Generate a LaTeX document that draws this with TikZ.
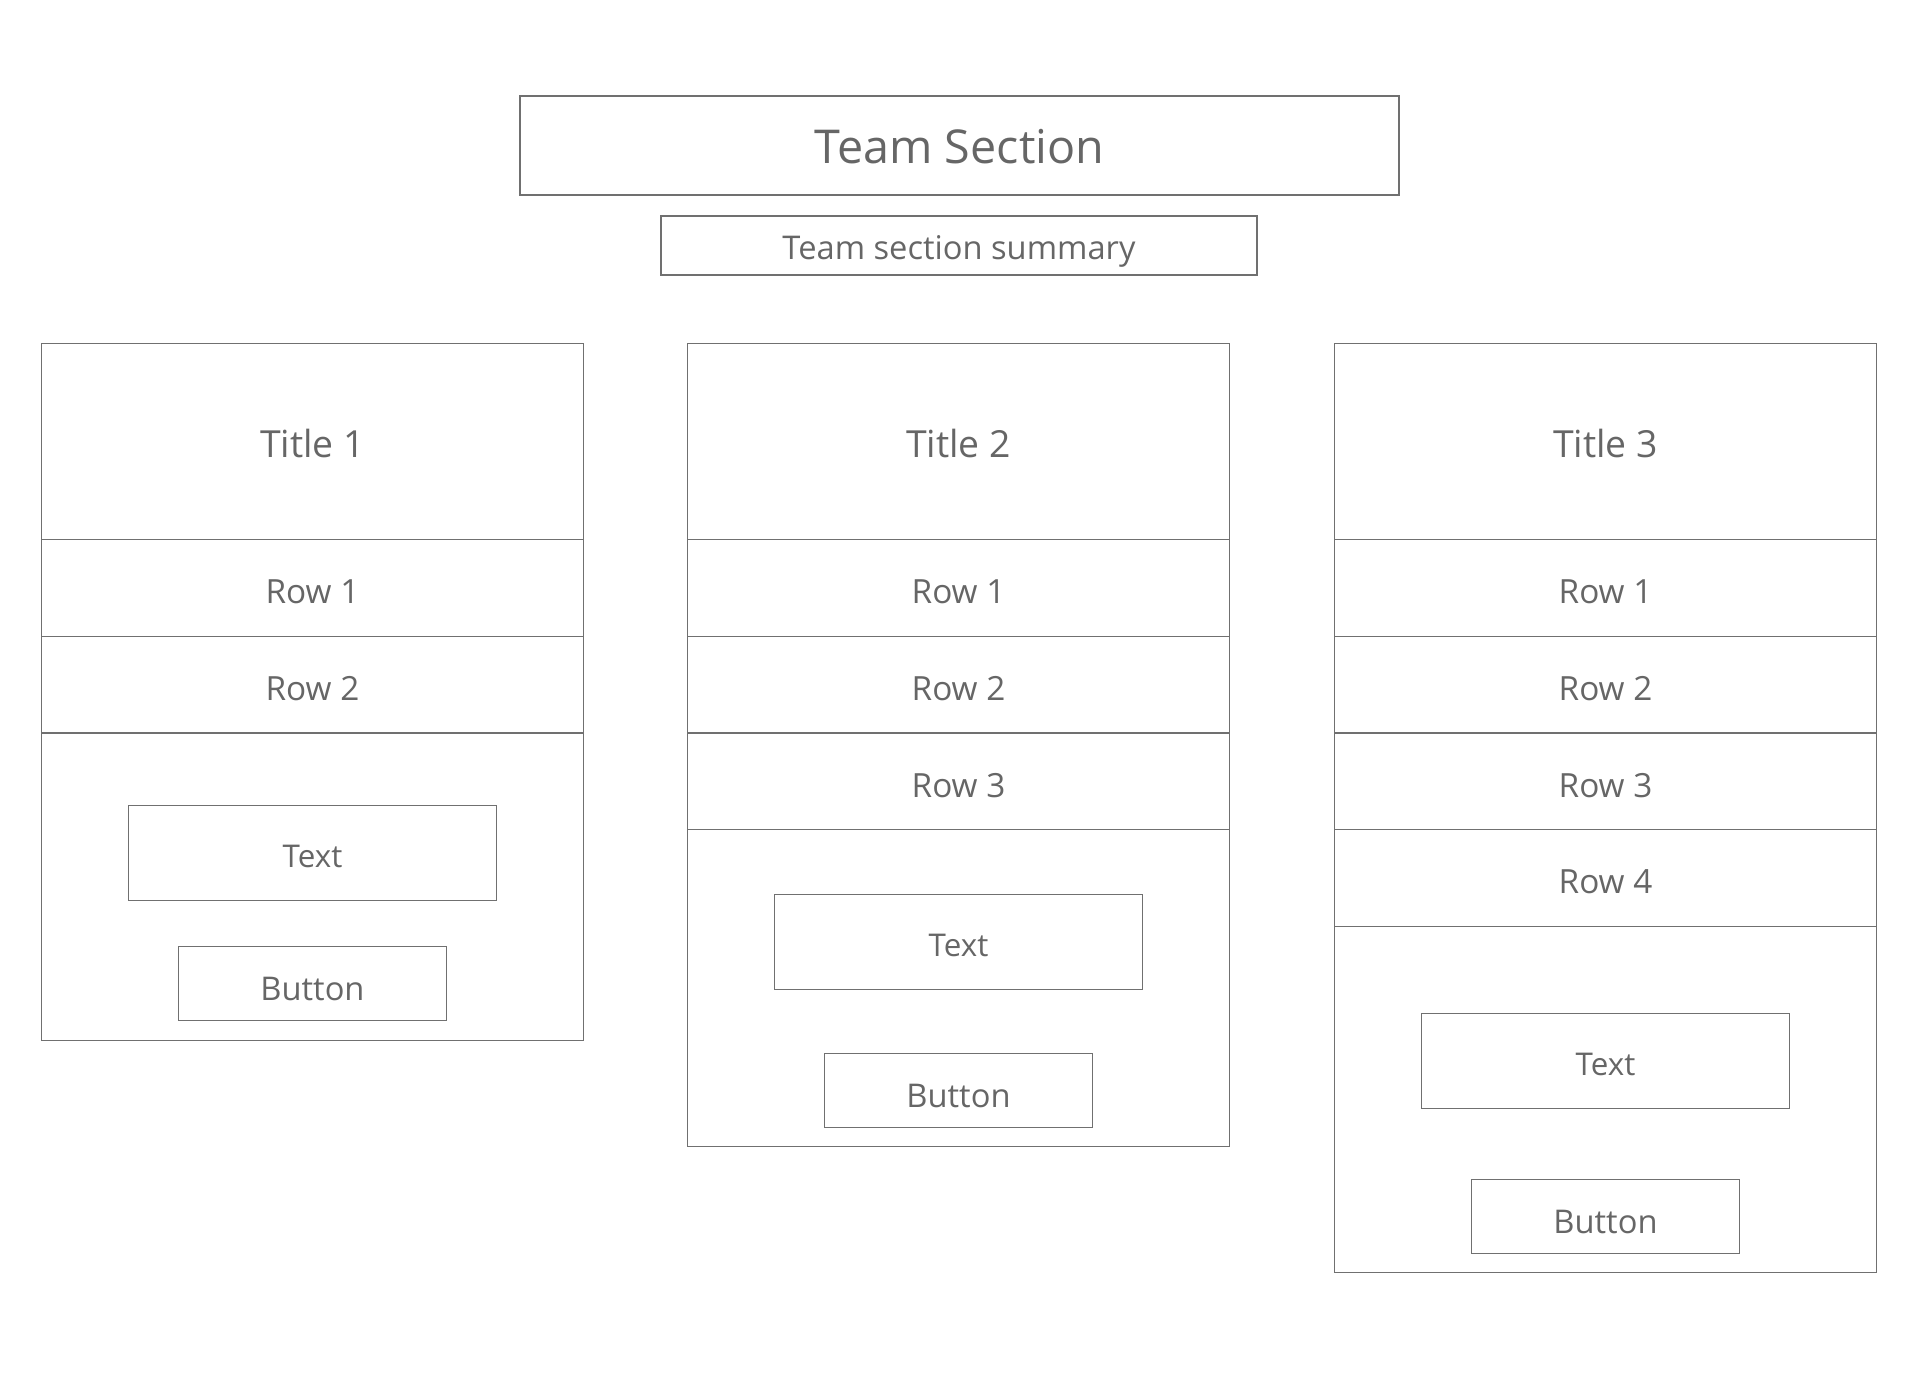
\documentclass[tikz,border=0pt]{standalone}
\usepackage{fontspec}
\setmainfont{Open Sans}
\definecolor{wire}{HTML}{707070}
\definecolor{ink}{HTML}{666666}

\begin{document}
\begin{tikzpicture}
[x=0.75pt,y=-0.75pt,
every node/.style={draw=wire,line width=0.8pt,text=ink,inner sep=0pt,align=center,text depth=0pt},
cell/.style={minimum width=406.5pt,minimum height=72.5pt,font=\fontsize{25}{30}\selectfont,text height=23.5pt},
headcell/.style={cell,minimum height=147pt,font=\fontsize{28}{34}\selectfont,text height=23.6pt},
panel/.style={minimum width=406.5pt},
textbox/.style={minimum width=276pt,minimum height=71.25pt,font=\fontsize{23.5}{28}\selectfont,text height=22.3pt},
buttonbox/.style={minimum width=201pt,minimum height=55.5pt,font=\fontsize{24.5}{30}\selectfont,text height=24.9pt},
]
\useasboundingbox (0,0) rectangle (1920,1398);
\node[minimum width=659.25pt,minimum height=74.25pt,font=\fontsize{35}{42}\selectfont,text height=26.8pt]
  (team) at (959.5,145.5) {Team Section};
\node[minimum width=447pt,minimum height=44.25pt,font=\fontsize{24.5}{30}\selectfont,text height=20.8pt]
  (summary) at (959,245.5) {Team section summary};
% columns: number / centre / rows / panel centre / panel height / text / button
\foreach \c/\x/\n/\py/\ph/\ty/\by in
  {1/312.5/2/886.5/230.3/852.8/983.5,
   2/958.5/3/988/237.7/942/1090.7,
   3/1605.5/4/1099.3/259.6/1061/1216.8}{
  \node[headcell] (title\c) at (\x,441.7) {Title \c};
  \foreach \r in {1,...,\n}
    \node[cell] (row\c\r) at (\x,{539.6+96.7*(\r-0.5)}) {Row \r};
  \node[panel,minimum height=\ph pt] (body\c) at (\x,\py) {};
  \node[textbox] (text\c) at (\x,\ty) {Text};
  \node[buttonbox] (button\c) at (\x,\by) {Button};
}
\end{tikzpicture}
\end{document}
